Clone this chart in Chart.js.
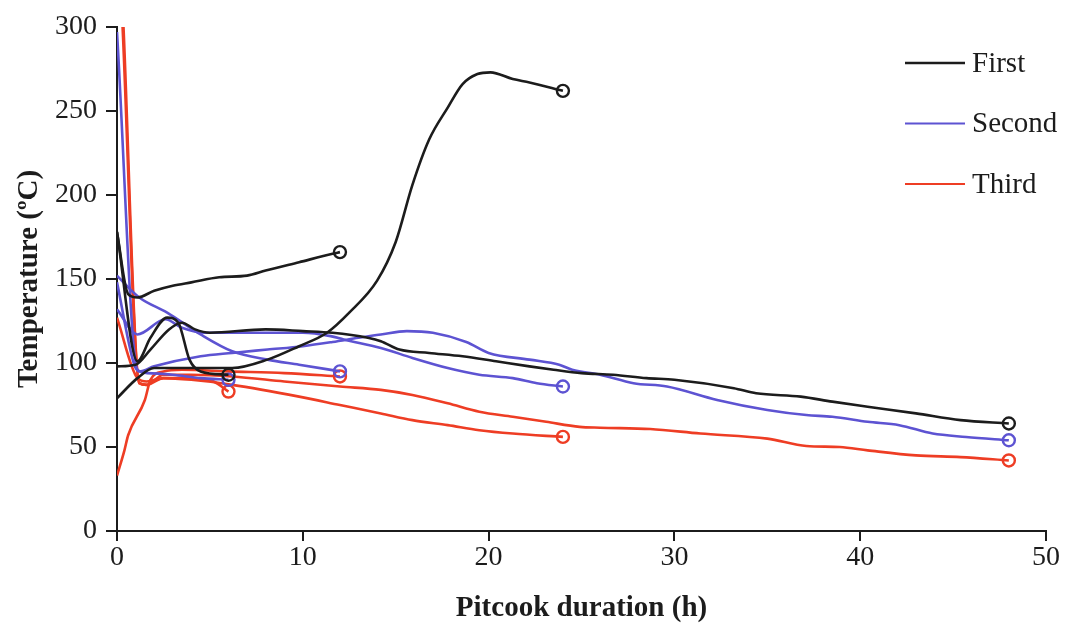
<!DOCTYPE html>
<html>
<head>
<meta charset="utf-8">
<script src="https://cdn.jsdelivr.net/npm/chart.js@4.4.1/dist/chart.umd.min.js"></script>
<style>
    html, body { margin: 0; padding: 0; background: #fff; }
    #wrap { width: 1072px; height: 628px; }
</style>
</head>
<body>
<div id="wrap"><canvas id="tempChart" width="1072" height="628"></canvas></div>
<script>
// Temperature during pitcooking, three runs, each sampled until 6, 12, 24 and 48 h
const seriesNames = ['First', 'Second', 'Third'];
const seriesColors = ['#1c1c1c', '#5d53d2', '#ee3d24'];

const xTicks = [0, 10, 20, 30, 40, 50];
const yTicks = [0, 50, 100, 150, 200, 250, 300];

// First (black)
const firstHours6 = [0, 1.1, 1.8, 2.7, 3.3, 3.9, 4.5, 6];
const firstTemp6 = [178, 101, 115, 127, 124, 102, 95, 93];
const firstHours12 = [0, 0.6, 1.1, 2, 3, 4, 5.5, 7, 8, 9.8, 11.6, 12];
const firstTemp12 = [178, 141, 139, 143, 146, 148, 151, 152, 155, 160, 165, 166];
const firstHours24 = [0, 1.1, 2, 4.5, 6.2, 8.1, 9.8, 11.3, 12.5, 14, 15, 15.9, 16.8, 17.8, 18.6, 19.4, 20.1, 21.3, 22.2, 24];
const firstTemp24 = [79, 91, 97, 97, 97, 102, 110, 118, 130, 149, 172, 206, 233, 252, 266, 272, 273, 269, 267, 262];
const firstHours48 = [0, 1, 1.8, 2.8, 3.5, 4.2, 5, 8, 10, 11.6, 13.5, 14.2, 15.2, 16.8, 18.6, 20.4, 22.2, 23.5, 25, 26.7, 28.5, 30, 33.2, 34.4, 36.8, 38.5, 40.4, 43, 45.4, 48];
const firstTemp48 = [98, 99, 108, 120, 124, 120, 118, 120, 119, 118, 115, 113, 108, 106, 104, 101, 98, 96, 94, 93, 91, 90, 85, 82, 80, 77, 74, 70, 66, 64];

// Second (blue)
const secondHours6 = [0, 1.1, 1.6, 3, 4.5, 6];
const secondTemp6 = [297, 96, 94, 93, 91, 90];
const secondHours12 = [0, 1.2, 2.7, 4.5, 6.2, 8.1, 9.8, 12];
const secondTemp12 = [152, 139, 130, 117, 107, 102, 99, 95];
const secondHours24 = [0, 1.1, 2.6, 3.5, 4.7, 7, 10, 11.5, 12.2, 14.2, 15.9, 17.8, 19.5, 21.3, 22.6, 24];
const secondTemp24 = [132, 117, 126, 121, 118, 118, 118, 116, 114, 109, 103, 97, 93, 91, 88, 86];
const secondHours48 = [0, 0.9, 1.2, 2, 4.5, 6.2, 8.1, 10, 11.6, 13, 14.2, 15.6, 17, 18.8, 20, 22.2, 23.8, 24.5, 26, 27.8, 29.6, 32.3, 35, 37.1, 38.5, 40.4, 42.1, 43.9, 45.7, 48];
const secondTemp48 = [148, 100, 95, 98, 104, 106, 108, 110, 112.5, 115, 117, 119, 118, 112.5, 106, 102, 99, 96, 93, 88, 86, 78, 72, 69, 68, 65, 63, 58, 56, 54];

// Third (red)
const thirdHours6 = [0, 1.1, 1.6, 2.5, 4, 5.2, 6];
const thirdTemp6 = [127, 91, 89, 91, 91, 89, 83];
const thirdHours12 = [0, 0.4, 0.6, 1.5, 1.8, 2.5, 3.5, 6, 9, 12];
const thirdTemp12 = [33, 48, 57, 78, 90, 95, 96, 95, 94, 92];
const thirdHours24 = [0.3, 1.2, 1.6, 2.5, 4, 6.2, 9.8, 12, 14.2, 15.9, 17.8, 19.5, 21.3, 24];
const thirdTemp24 = [300, 88, 87, 91, 90, 87, 80, 75, 70, 66, 63, 60, 58, 56];
const thirdHours48 = [0.35, 1.2, 1.6, 2.5, 4, 6.2, 9, 12, 14.2, 15.9, 17.8, 19.5, 21.3, 23.1, 24.9, 26, 28.7, 31.4, 35, 37.1, 38.9, 40.4, 43, 45.4, 48];
const thirdTemp48 = [300, 88, 87, 93, 93, 92, 89, 86, 84, 81, 76, 71, 68, 65, 62, 61.5, 60.7, 58, 55, 50.6, 50, 48, 45, 44, 42];

function toPoints(hours, temps) {
    return hours.map((h, i) => ({ x: h, y: temps[i] }));
}

function makeRun(hours, temps, colorIndex) {
    const last = hours.length - 1;
    return {
        label: seriesNames[colorIndex],
        data: toPoints(hours, temps),
        borderColor: seriesColors[colorIndex],
        borderWidth: 2.6,
        cubicInterpolationMode: 'monotone',
        pointRadius: hours.map((h, i) => i === last ? 6 : 0),
        pointBorderWidth: 2.4,
        pointBorderColor: seriesColors[colorIndex],
        pointBackgroundColor: 'rgba(255,255,255,0)',
        pointHoverRadius: 0
    };
}

const datasets = [
    makeRun(firstHours6, firstTemp6, 0),
    makeRun(firstHours12, firstTemp12, 0),
    makeRun(firstHours24, firstTemp24, 0),
    makeRun(firstHours48, firstTemp48, 0),
    makeRun(secondHours6, secondTemp6, 1),
    makeRun(secondHours12, secondTemp12, 1),
    makeRun(secondHours24, secondTemp24, 1),
    makeRun(secondHours48, secondTemp48, 1),
    makeRun(thirdHours6, thirdTemp6, 2),
    makeRun(thirdHours12, thirdTemp12, 2),
    makeRun(thirdHours24, thirdTemp24, 2),
    makeRun(thirdHours48, thirdTemp48, 2)
];

// simple vertical legend at the top right, one entry per run
const sideLegend = {
    id: 'sideLegend',
    afterDraw(chart) {
        const ctx = chart.ctx;
        const area = chart.chartArea;
        ctx.save();
        ctx.font = '29px "Liberation Serif", "Times New Roman", serif';
        ctx.textBaseline = 'middle';
        seriesNames.forEach((name, i) => {
            const y = area.top + 36 + i * 60.5;
            const x0 = area.right - 141;
            ctx.strokeStyle = seriesColors[i];
            ctx.lineWidth = i === 0 ? 2.4 : 2;
            ctx.beginPath();
            ctx.moveTo(x0, y);
            ctx.lineTo(x0 + 60, y);
            ctx.stroke();
            ctx.fillStyle = '#1c1c1c';
            ctx.fillText(name, x0 + 67, y + 1);
        });
        ctx.restore();
    }
};

const tickFont = { family: '"Liberation Serif", "Times New Roman", serif', size: 28 };
const titleFont = { family: '"Liberation Serif", "Times New Roman", serif', size: 29, weight: 'bold' };

new Chart(document.getElementById('tempChart').getContext('2d'), {
    type: 'line',
    data: { datasets: datasets },
    options: {
        responsive: false,
        animation: false,
        events: [],
        layout: { padding: { top: 27, right: 26, left: 0, bottom: 0 } },
        plugins: {
            legend: { display: false },
            tooltip: { enabled: false }
        },
        scales: {
            x: {
                type: 'linear',
                min: 0,
                max: 50,
                afterBuildTicks: scale => { scale.ticks = xTicks.map(v => ({ value: v })); },
                afterFit: scale => { scale.height = 97; },
                ticks: { font: tickFont, color: '#1c1c1c', padding: 0, maxRotation: 0 },
                grid: { drawOnChartArea: false, drawTicks: true, tickLength: 10, color: '#1c1c1c', lineWidth: 2 },
                border: { display: true, color: '#1c1c1c', width: 2 },
                title: { display: true, text: 'Pitcook duration (h)', font: titleFont, color: '#1c1c1c', padding: { top: 0, bottom: 2 } }
            },
            y: {
                type: 'linear',
                min: 0,
                max: 300,
                afterBuildTicks: scale => { scale.ticks = yTicks.map(v => ({ value: v })); },
                afterFit: scale => { scale.width = 117; },
                ticks: { font: tickFont, color: '#1c1c1c', padding: 9 },
                grid: { drawOnChartArea: false, drawTicks: true, tickLength: 11, color: '#1c1c1c', lineWidth: 2 },
                border: { display: true, color: '#1c1c1c', width: 2 },
                title: { display: true, text: 'Temperature (ºC)', font: titleFont, color: '#1c1c1c', padding: { top: 12, bottom: 0 } }
            }
        }
    },
    plugins: [sideLegend]
});
</script>
</body>
</html>
